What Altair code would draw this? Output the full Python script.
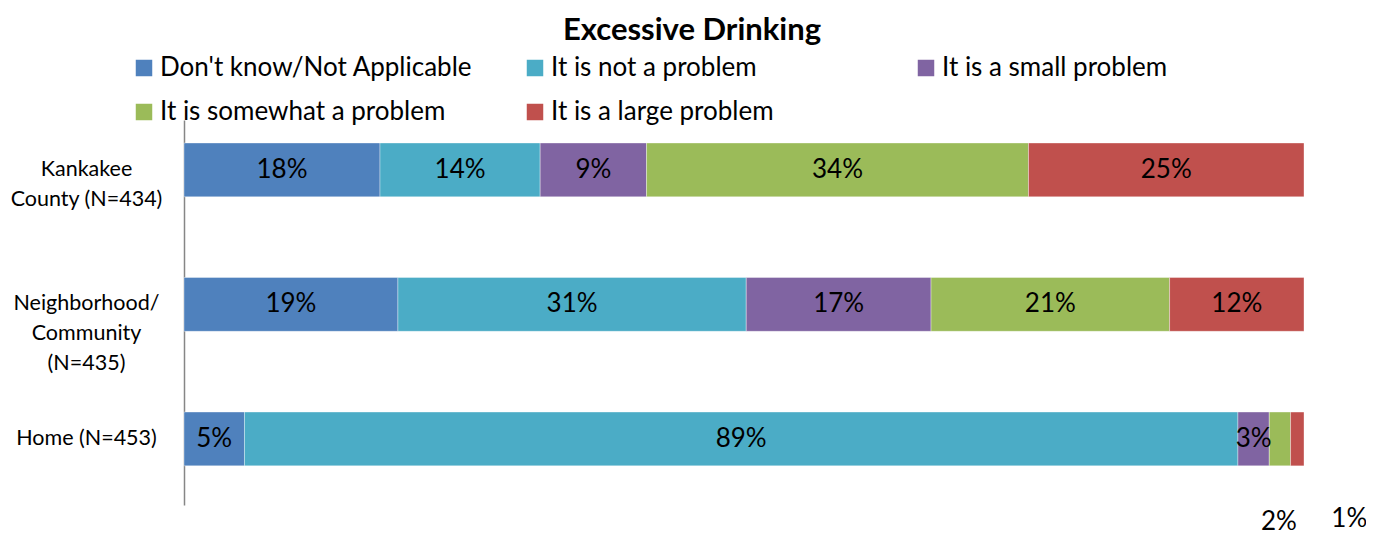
import altair as alt
import pandas as pd

# ---- data ----
rows = ["Kankakee|County (N=434)", "Neighborhood/|Community|(N=435)", "Home (N=453)"]
categories = ["Don't know/Not Applicable", "It is not a problem", "It is a small problem",
              "It is somewhat a problem", "It is a large problem"]
colors = ["#4F81BD", "#4BACC6", "#8064A2", "#9BBB59", "#C0504D"]

kankakee = [17.5, 14.3, 9.5, 34.1, 24.6]
neighborhood = [19.1, 31.1, 16.5, 21.3, 12.0]
home = [5.4, 88.7, 2.8, 1.9, 1.2]

kankakee_labels = ["18%", "14%", "9%", "34%", "25%"]
neighborhood_labels = ["19%", "31%", "17%", "21%", "12%"]
home_labels = ["5%", "89%", "3%", "2%", "1%"]

records = []
for r, vals, labs in zip(rows, [kankakee, neighborhood, home],
                         [kankakee_labels, neighborhood_labels, home_labels]):
    for i, (c, v, l) in enumerate(zip(categories, vals, labs)):
        records.append({"row": r, "cat": c, "idx": i, "value": v, "label": l})
df = pd.DataFrame(records)

FONT = "Lato"

base = alt.Chart(df).transform_stack(
    stack="value", groupby=["row"], as_=["x0", "x1"], sort=[alt.SortField("idx")]
).transform_calculate(mid="(datum.x0 + datum.x1) / 2")

yenc = alt.Y("row:N", sort=rows, title=None,
             scale=alt.Scale(paddingInner=0.6, paddingOuter=0.231, align=0.37),
             axis=alt.Axis(ticks=False, domain=True, domainColor="#868686", domainWidth=1.5,
                           labelExpr="split(datum.label, '|')", labelAlign="center",
                           labelBaseline="middle", labelPadding=98, labelFontSize=21.5,
                           labelLineHeight=30, labelFont=FONT, labelColor="#000000",
                           labelLimit=400))

xscale = alt.Scale(domain=[0, 100], nice=False)

bars = base.mark_bar(stroke="#ffffff", strokeWidth=0.6, strokeOpacity=0.6).encode(
    x=alt.X("x0:Q", scale=xscale, axis=None),
    x2="x1:Q",
    y=yenc,
    color=alt.Color("cat:N", sort=categories,
                    scale=alt.Scale(domain=categories, range=colors),
                    legend=alt.Legend(title=None, orient="none", legendX=-53, legendY=-65,
                                      direction="horizontal",
                                      columns=3, gridAlign="all", columnPadding=49,
                                      symbolType="square", symbolSize=272,
                                      symbolStrokeWidth=0, labelFontSize=26,
                                      labelFont=FONT, labelColor="#000000",
                                      rowPadding=18, labelOffset=3, labelLimit=500)),
    order="idx:Q",
)

inside = base.transform_filter(
    "!(datum.row == 'Home (N=453)' && datum.idx >= 3)"
).mark_text(fontSize=26, font=FONT, color="#000000", baseline="middle").encode(
    x=alt.X("mid:Q", scale=xscale), y=alt.Y("row:N", sort=rows), text="label:N")

out2 = base.transform_filter(
    "datum.row == 'Home (N=453)' && datum.idx == 3"
).mark_text(fontSize=26, font=FONT, color="#000000", baseline="middle", dy=83, dx=-1).encode(
    x=alt.X("mid:Q", scale=xscale), y=alt.Y("row:N", sort=rows), text="label:N")

out1 = base.transform_filter(
    "datum.row == 'Home (N=453)' && datum.idx == 4"
).mark_text(fontSize=26, font=FONT, color="#000000", baseline="middle", dy=80, dx=52).encode(
    x=alt.X("mid:Q", scale=xscale), y=alt.Y("row:N", sort=rows), text="label:N")

chart = alt.layer(bars, inside, out2, out1).properties(
    width=1120, height=385,
    title=alt.TitleParams("Excessive Drinking", fontSize=31, font=FONT, fontWeight="bold",
                          anchor="middle", dx=-52, dy=-4, color="#000000"),
    autosize=alt.AutoSizeParams(type="none"),
    padding={"left": 176, "top": 112, "right": 62, "bottom": 40},
).configure_view(stroke=None)

chart.save("out.html", embed_options={"renderer": "svg", "actions": False})
